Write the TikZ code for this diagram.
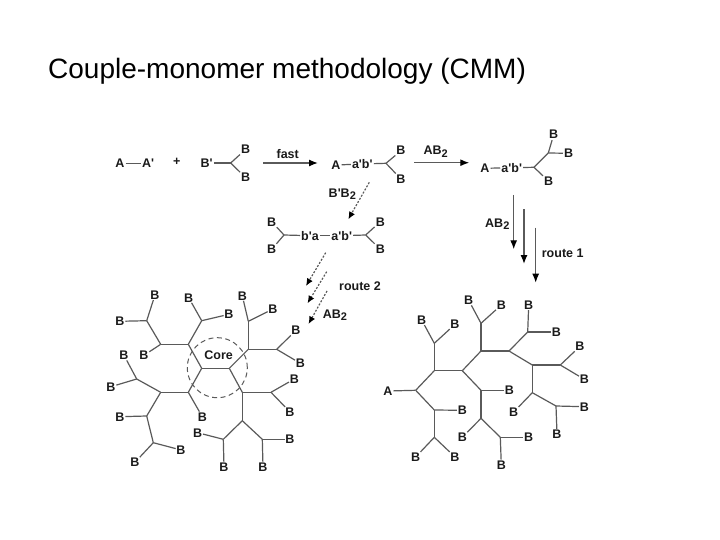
\documentclass[tikz,border=0pt]{standalone}
\usepackage{fontspec}
\setmainfont[Ligatures=TeXOff]{Liberation Sans}
\usetikzlibrary{arrows.meta}
\definecolor{bondc}{HTML}{5A5A5A}
\definecolor{labelc}{HTML}{1A1A1A}
\tikzset{
  lbl/.style={font=\fontsize{12.5}{14}\selectfont\bfseries,text=labelc,inner sep=1pt},
  small/.style={lbl,inner sep=0.6pt},
  bond/.style={draw=bondc,line width=1.2pt},
  solidarrow/.style={draw=bondc,line width=1.3pt,-{Latex[length=9pt,width=7pt,color=black]}},
  dasharrow/.style={draw=bondc,line width=1.2pt,dash pattern=on 2pt off 1.6pt,-{Latex[length=7.5pt,width=6.5pt,color=black]}},
  coredash/.style={draw=bondc,line width=1pt,dash pattern=on 5pt off 3.5pt},
}
\newcommand{\two}{\raisebox{-2.2pt}{\fontsize{11}{12}\selectfont 2}}
\begin{document}
\begin{tikzpicture}[x=1pt,y=-1pt]
\useasboundingbox (0,0) rectangle (720,540);
\node[anchor=west,inner sep=0pt,text=black,font=\fontsize{28}{32}\selectfont] (title) at (48,71) {Couple-monomer methodology (CMM)};

% ---- top row
\node[lbl] (a1) at (120,163.7) {A};
\node[lbl] (a1p) at (148,163.7) {A'};
\node[lbl] (plus) at (176.7,162) {+};
\node[lbl] (bp) at (206.7,163) {B'};
\coordinate (j1) at (230.7,163);
\node[lbl] (b1) at (245.7,149.3) {B};
\node[lbl] (b2) at (245.7,177.7) {B};
\draw[bond] (a1) -- (a1p);
\foreach \p/\q in {bp/j1,j1/b1,j1/b2} \draw[bond] (\p) -- (\q);

\coordinate (fs) at (263.3,163); \coordinate (fe) at (318,163);
\draw[solidarrow] (fs) -- (fe);
\node[lbl] (fast) at (287.7,154) {fast};

\node[lbl] (a2) at (336,165) {A};
\node[lbl] (ab2) at (362.3,164) {a'b'};
\coordinate (j2) at (386,163.3);
\node[lbl] (b3) at (401,150.7) {B};
\node[lbl] (b4) at (401,179) {B};
\foreach \p/\q in {a2/ab2,ab2/j2,j2/b3,j2/b4} \draw[bond] (\p) -- (\q);

\coordinate (gs) at (414,162.7); \coordinate (ge) at (469.3,162.7);
\draw[solidarrow] (gs) -- (ge);
\node[lbl] (ab2lbl) at (435.7,151.7) {AB\two};

\node[lbl] (a3) at (485,168.3) {A};
\node[lbl] (ab3) at (511.7,167.7) {a'b'};
\coordinate (j3) at (534,167.3);
\coordinate (j4) at (548.3,153);
\node[lbl] (b5) at (553.7,134.7) {B};
\node[lbl] (b6) at (568.7,153.3) {B};
\node[lbl] (b7) at (548.7,181.3) {B};
\foreach \p/\q in {a3/ab3,ab3/j3,j3/j4,j3/b7,j4/b5,j4/b6} \draw[bond] (\p) -- (\q);

% ---- vertical arrows
\coordinate (v1s) at (513.7,195); \coordinate (v1e) at (513.7,249.3);
\coordinate (v2s) at (524,209.3); \coordinate (v2e) at (524,264);
\coordinate (v3s) at (535.7,227.7); \coordinate (v3e) at (535.7,282.7);
\foreach \p/\q in {v1s/v1e,v2s/v2e,v3s/v3e} \draw[solidarrow] (\p) -- (\q);
\node[lbl] (ab2v) at (497.3,224.3) {AB\two};
\node[lbl] (route1) at (562.7,253) {route 1};

% ---- dashed arrow and middle row
\coordinate (d1s) at (369.3,182.3); \coordinate (d1e) at (348.3,219.3);
\draw[dasharrow] (d1s) -- (d1e);
\node[lbl] (bpb2) at (342.3,194.3) {B'B\two};

\node[lbl] (b8) at (271.7,221.7) {B};
\node[lbl] (b9) at (271.7,249.3) {B};
\coordinate (j5) at (284,235);
\node[lbl] (ba) at (310,235.7) {b'a};
\node[lbl] (ab4) at (341.7,235.7) {a'b'};
\coordinate (j6) at (365.7,235);
\node[lbl] (b10) at (380.3,221.7) {B};
\node[lbl] (b11) at (380.3,249.3) {B};
\foreach \p/\q in {b8/j5,b9/j5,j5/ba,ba/ab4,ab4/j6,j6/b10,j6/b11} \draw[bond] (\p) -- (\q);

\coordinate (d2s) at (325.7,252.7); \coordinate (d2e) at (306,286);
\coordinate (d3s) at (326.7,271.7); \coordinate (d3e) at (307.5,303.3);
\coordinate (d4s) at (327,291); \coordinate (d4e) at (308.5,324);
\foreach \p/\q in {d2s/d2e,d3s/d3e,d4s/d4e} \draw[dasharrow] (\p) -- (\q);
\node[lbl] (route2) at (360,286) {route 2};
\node[lbl] (ab2d) at (335,315) {AB\two};

% ---- left dendrimer (junction coordinates)
\foreach \n/\x/\y in {
 c1/201.7/368.3, c2/229.3/368.3, n1/188.3/344.3, n2/188.3/392.3, n3/248.3/349.3, n4/242.3/392.3,
 n5/160.7/344.3, n6/201.7/320.7, n7/146.7/320.7, n8/160.7/392.3, n9/136.7/379, n10/146.7/416,
 n11/153.3/442.7, n12/248.3/321.3, n13/276.7/349.3, n14/271/392.3, n15/242.3/420.7,
 n16/223.3/439.3, n17/262.3/439.3}
 \coordinate (\n) at (\x,\y);
% ---- left dendrimer (B nodes)
\foreach \n/\x/\y in {
 l1/188.7/297.7, l2/229/314.3, l3/155/295, l4/120/321.3, l5/144/355.3, l6/124/355.3,
 l7/111/386.7, l8/120/416.7, l9/202.3/416.7, l10/181/450, l11/135/462.3, l12/242.3/295.7,
 l13/273/309, l14/296/330.3, l15/300.3/363.3, l16/294.3/379, l17/290/412, l18/197.7/432.7,
 l19/224/467, l20/290/439.3, l21/263/467}
 \node[small] (\n) at (\x,\y) {B};
\node[lbl] (core) at (218.7,354.7) {Core};
\node[coredash,circle,minimum size=60pt,inner sep=0pt] (coreRing) at (217.3,367.7) {};
\foreach \p/\q in {
 c1/c2,c1/n1,c1/n2,c2/n3,c2/n4,n1/n5,n1/n6,n6/l1,n6/l2,n5/n7,n5/l5,n7/l3,n7/l4,
 n2/n8,n2/l9,n8/n9,n8/n10,n9/l6,n9/l7,n10/l8,n10/n11,n11/l10,n11/l11,
 n3/n12,n3/n13,n12/l12,n12/l13,n13/l14,n13/l15,
 n4/n14,n4/n15,n14/l16,n14/l17,n15/n16,n15/n17,n16/l18,n16/l19,n17/l20,n17/l21}
 \draw[bond] (\p) -- (\q);

% ---- right dendrimer (junction coordinates)
\foreach \n/\x/\y in {
 r1/415.7/390.3, r2/434.3/370.7, r3/434.3/410, r4/434.3/437.3, r5/434.3/343.3, r6/462.3/370.7,
 r7/481/351, r8/481/390.3, r9/481/418.3, r10/500.3/437.3, r11/481/323.3, r12/509/351,
 r13/527.7/332, r14/532.3/365, r15/560.3/365, r16/532.3/392.7, r17/556/406}
 \coordinate (\n) at (\x,\y);
% ---- right dendrimer (B nodes)
\node[small] (ra) at (388,391) {A};
\foreach \n/\x/\y in {
 s1/462.3/410.3, s2/415.7/457, s3/455/457, s4/421.7/320, s5/455/324.3, s6/509.3/390.3,
 s7/462.3/437.3, s8/528.7/437.3, s9/501.3/464.7, s10/468.7/300.3, s11/501.3/305,
 s12/528.7/305, s13/556.3/332, s14/580/346.3, s15/584.3/379.3, s16/513.7/412,
 s17/584.3/406.7, s18/557/434}
 \node[small] (\n) at (\x,\y) {B};
\foreach \p/\q in {
 ra/r1,r1/r2,r1/r3,r3/s1,r3/r4,r4/s2,r4/s3,r2/r5,r2/r6,r5/s4,r5/s5,r6/r7,r6/r8,r8/s6,r8/r9,
 r9/s7,r9/r10,r10/s8,r10/s9,r7/r11,r7/r12,r11/s10,r11/s11,r12/r13,r12/r14,r13/s12,r13/s13,
 r14/r15,r14/r16,r15/s14,r15/s15,r16/s16,r16/r17,r17/s17,r17/s18}
 \draw[bond] (\p) -- (\q);
\end{tikzpicture}
\end{document}
